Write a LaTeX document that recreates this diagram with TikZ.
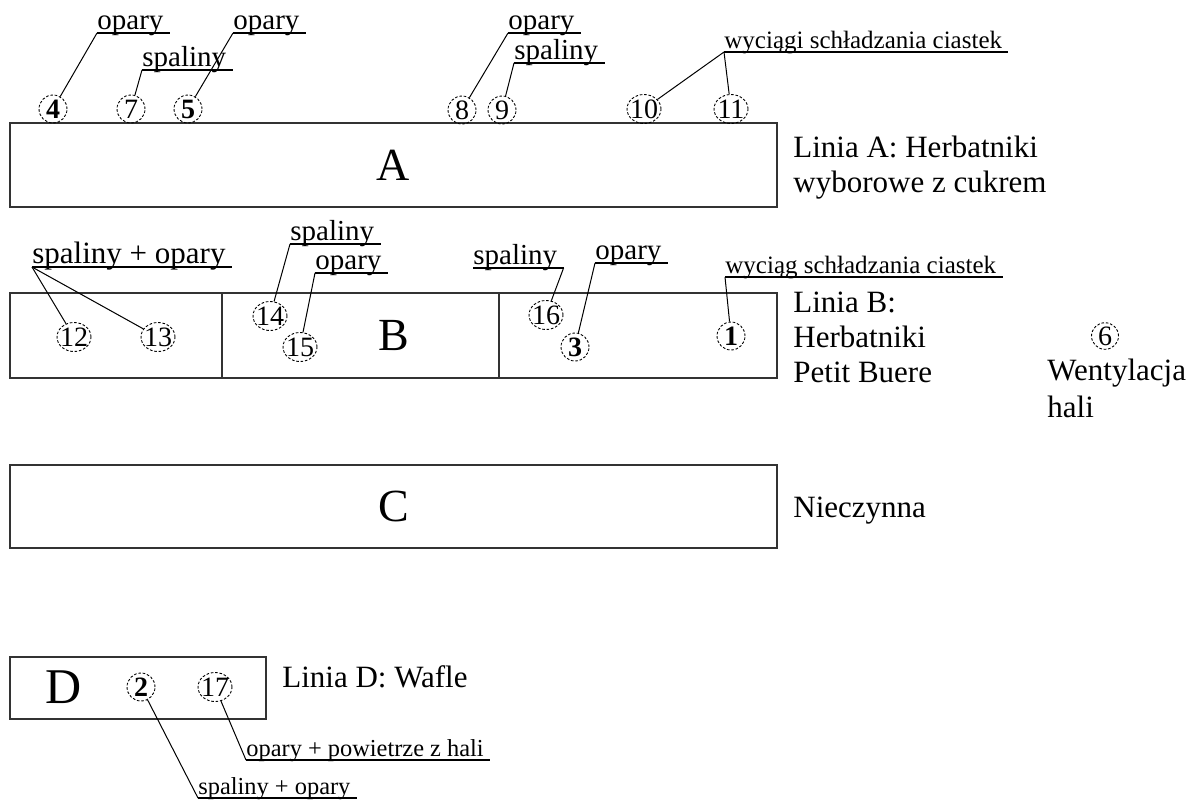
\documentclass[tikz,border=0pt]{standalone}
\usepackage{fontspec}
\setmainfont{Liberation Serif}
\usetikzlibrary{shapes.geometric}

% digits sit on a zero-width box so the ellipse keeps its fixed size
\newcommand\digits[1]{\makebox[0pt]{#1}}

\tikzset{
  box/.style={draw=black!80, line width=0.85pt, inner sep=0pt,
    font=\fontsize{23}{23}\selectfont},
  divider/.style={draw=black!80, line width=0.85pt},
  num/.style={ellipse, draw, line width=0.45pt, dash pattern=on 1.3pt off 0.9pt,
    inner sep=0pt, minimum width=14pt, minimum height=14pt,
    font=\fontsize{14}{14}\selectfont},
  numw/.style={num, minimum width=17pt, minimum height=14.5pt},
  numb/.style={num, font=\fontsize{14}{14}\selectfont\bfseries},
  lbl/.style={inner sep=0pt, anchor=base west, font=\fontsize{14.5}{17}\selectfont},
  lblm/.style={lbl, font=\fontsize{15.5}{17}\selectfont},
  lbls/.style={lbl, font=\fontsize{12.5}{14}\selectfont},
  lbld/.style={lbl, font=\fontsize{12.2}{14}\selectfont},
  side/.style={inner sep=0pt, anchor=base west, align=left,
    font=\fontsize{15.5}{17.5}\selectfont},
  uline/.style={line width=0.6pt},
  conn/.style={line width=0.5pt},
}

\begin{document}
\begin{tikzpicture}[x=0.5pt, y=-0.5pt]
\useasboundingbox (0,0) rectangle (1192,800);

% production lines
\node[box, minimum width=383.5pt, minimum height=42pt] (A) at (393.5,165) {A};
\node[box, minimum width=383.5pt, minimum height=42.5pt] (B) at (393.5,335.5) {B};
\node[box, minimum width=383.5pt, minimum height=41.5pt] (C) at (393.5,506.5) {C};
\node[box, minimum width=128pt, minimum height=31pt] (D) at (138,688) {};
\node[inner sep=0pt, font=\fontsize{25}{25}\selectfont] (Dl) at (64,687) {D};

% sections of line B
\draw[divider] ([xshift=106.5pt]B.north west) -- ([xshift=106.5pt]B.south west);
\draw[divider] ([xshift=245pt]B.north west) -- ([xshift=245pt]B.south west);

% descriptions (anchored at the baseline of the last line)
\node[side] (la) at (793,192) {Linia A: Herbatniki\\wyborowe z cukrem};
\node[side] (lb) at (793,382) {Linia B:\\Herbatniki\\Petit Buere};
\node[side] (lc) at (793,517) {Nieczynna};
\node[side] (ld) at (282,687) {Linia D: Wafle};
\node[side, font=\fontsize{15.5}{18.5}\selectfont] (wh) at (1047,417) {Wentylacja\\hali};

% emission points
\node[numb] (c4)  at (53,109)  {\digits{4}};
\node[num]  (c7)  at (131,109) {\digits{7}};
\node[numb] (c5)  at (188,109) {\digits{5}};
\node[num]  (c8)  at (462,110) {\digits{8}};
\node[num]  (c9)  at (502,110) {\digits{9}};
\node[numw] (c10) at (644,109) {\digits{10}};
\node[numw] (c11) at (731,109) {\digits{11}};
\node[numw] (c12) at (74,337)  {\digits{12}};
\node[numw] (c13) at (158,337) {\digits{13}};
\node[numw] (c14) at (270,316) {\digits{14}};
\node[numw] (c15) at (300,347) {\digits{15}};
\node[numw] (c16) at (546,315) {\digits{16}};
\node[numb] (c3)  at (575,347) {\digits{3}};
\node[numb] (c1)  at (731,336) {\digits{1}};
\node[num, minimum width=13.5pt, minimum height=11.5pt] (c6) at (1105,336) {\digits{6}};
\node[numb] (c2)  at (141,687) {\digits{2}};
\node[numw] (c17) at (215,687) {\digits{17}};

% emission labels
\node[lbl]  (t1) at (97,29)   {opary};
\node[lbl]  (t2) at (142,66)  {spaliny};
\node[lbl]  (t3) at (233,29)  {opary};
\node[lbl]  (t4) at (508,29)  {opary};
\node[lbl]  (t5) at (514,59)  {spaliny};
\node[lbls] (t6) at (724,48)  {wyciągi schładzania ciastek};
\node[lblm] (b1) at (32,263)  {spaliny + opary};
\node[lbl]  (b2) at (290,240) {spaliny};
\node[lbl]  (b3) at (315,269) {opary};
\node[lbl]  (b4) at (473,264) {spaliny};
\node[lbl]  (b5) at (595,259) {opary};
\node[lbls] (b6) at (725,273) {wyciąg schładzania ciastek};
\node[lbld] (d1) at (246,756) {opary + powietrze z hali};
\node[lbld] (d2) at (198,794) {spaliny + opary};

% underlines
\foreach \n in {t1,t2,t3,t4,t5,t6,b1,b2,b3,b4,b5,b6,d1,d2}{
  \coordinate (\n-l) at ([yshift=-2pt]\n.base west);
  \coordinate (\n-r) at ([xshift=3pt,yshift=-2pt]\n.base east);
  \draw[uline] (\n-l) -- (\n-r);
}

% leader lines
\draw[conn] (c4)  -- (t1-l);
\draw[conn] (c7)  -- (t2-l);
\draw[conn] (c5)  -- (t3-l);
\draw[conn] (c8)  -- (t4-l);
\draw[conn] (c9)  -- (t5-l);
\draw[conn] (c10) -- (t6-l);
\draw[conn] (c11) -- (t6-l);
\draw[conn] (c12) -- (b1-l);
\draw[conn] (c13) -- (b1-l);
\draw[conn] (c14) -- (b2-l);
\draw[conn] (c15) -- (b3-l);
\draw[conn] (c16) -- (b4-r);
\draw[conn] (c3)  -- (b5-l);
\draw[conn] (c1)  -- (b6-l);
\draw[conn] (c17) -- (d1-l);
\draw[conn] (c2)  -- (d2-l);
\end{tikzpicture}
\end{document}
